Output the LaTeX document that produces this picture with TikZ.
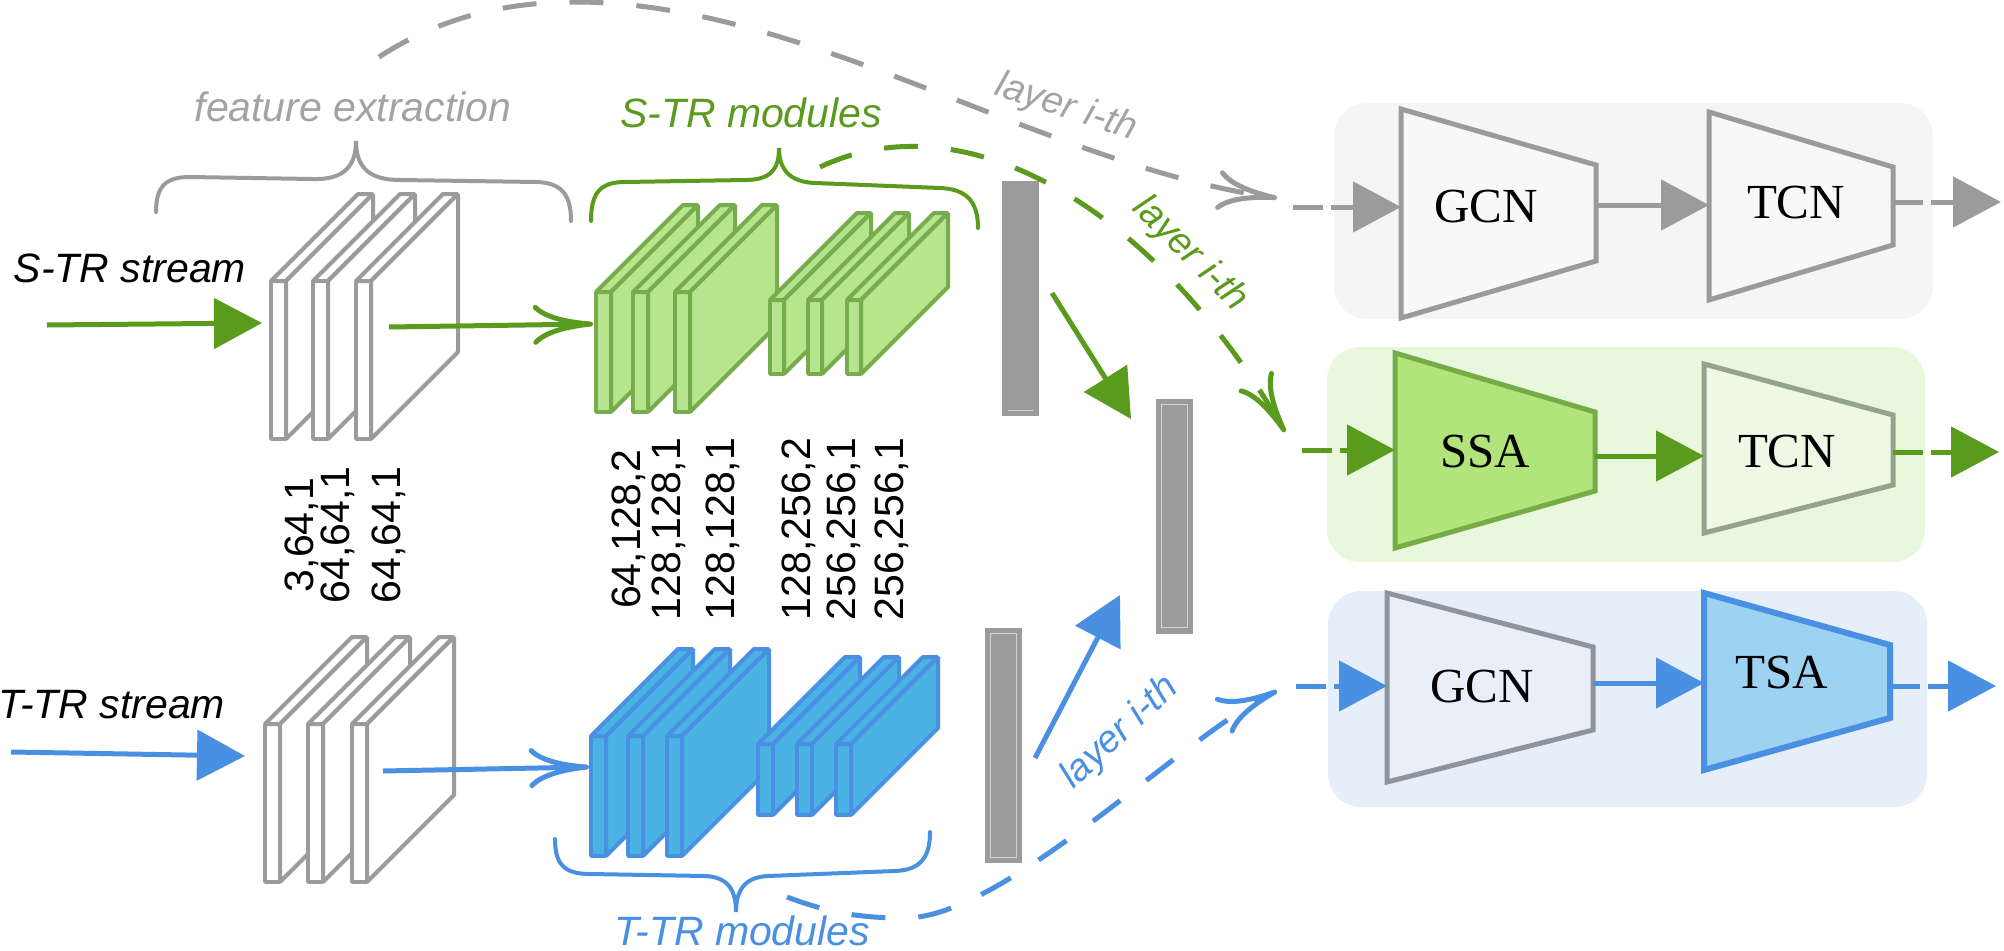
\documentclass[tikz,border=0pt]{standalone}
\usepackage{fontspec}
\setmainfont{Liberation Serif}
\setsansfont{Liberation Sans}
\usetikzlibrary{arrows.meta}
\definecolor{gline}{HTML}{9B9B9B}
\definecolor{gtext}{HTML}{A3A3A3}
\definecolor{grn}{HTML}{5A9A1C}
\definecolor{grnslab}{HTML}{B7E58E}
\definecolor{grnedge}{HTML}{76AC4C}
\definecolor{grnbox}{HTML}{E9F7DC}
\definecolor{ssafill}{HTML}{B1E57B}
\definecolor{ssaedge}{HTML}{75AC48}
\definecolor{tcngfill}{HTML}{EEF8E5}
\definecolor{tcngedge}{HTML}{94A38B}
\definecolor{blu}{HTML}{4A90E2}
\definecolor{bluslab}{HTML}{4BB3E4}
\definecolor{blubox}{HTML}{E6EEF9}
\definecolor{tsafill}{HTML}{9DD2F0}
\definecolor{gcnbfill}{HTML}{E9EFF9}
\definecolor{gcnbedge}{HTML}{8E949C}
\definecolor{graybox}{HTML}{F5F5F5}
\definecolor{gcnfill}{HTML}{F8F8F8}
\definecolor{barg}{HTML}{9B9B9B}
\definecolor{barl}{HTML}{D4D4D4}
\newcommand{\myslab}[5]{%
  \path[#5] (#1,#2) rectangle ++(#3,#4);
  \path[#5] (#1,#2) -- ++(87,-87) -- ++(#3,0) -- ++(-87,87) -- cycle;
  \path[#5] (#1+#3,#2) -- ++(87,-87) -- ++(0,#4) -- ++(-87,87) -- cycle;
}
\begin{document}
\begin{tikzpicture}[x=1pt,y=-1pt,
  lbl/.style={font=\sffamily\itshape\fontsize{41}{49}\selectfont, inner sep=0pt, anchor=base},
  lyr/.style={font=\sffamily\itshape\fontsize{38}{46}\selectfont, inner sep=0pt},
  num/.style={font=\sffamily\fontsize{41}{49}\selectfont, rotate=90, inner sep=0pt,
    text height=29pt, text depth=3pt},
  mod/.style={font=\rmfamily\fontsize{49}{58}\selectfont, inner sep=0pt},
  tri/.style={-{Triangle[length=48pt,width=50pt]}},
  barb/.style={-{Computer Modern Rightarrow[length=60pt,width=40pt]}},
  ln/.style={line width=5pt},
  sdash/.style={dash pattern=on 30pt off 8pt},
  ldash/.style={dash pattern=on 34pt off 33pt},
  slabg/.style={fill=white, draw=gline, line width=4pt, line join=bevel},
  slabgr/.style={fill=grnslab, draw=grnedge, line width=4pt, line join=bevel},
  slabb/.style={fill=bluslab, draw=blu, line width=4pt, line join=bevel},
  brace/.style={line width=4pt, line cap=round},
  rbox/.style={rounded corners=33pt, inner sep=0pt, draw=none},
  bar/.style={fill=barg, draw=none, inner sep=0pt, minimum width=37pt, minimum height=235pt},
  barin/.style={draw=barl, line width=1.2pt},
  trap/.style={line width=5pt, line join=miter},
]
\useasboundingbox (0,0) rectangle (2004,950);

% ---------- right-hand rounded boxes ----------
\node[rbox, fill=graybox, minimum width=599pt, minimum height=216pt] (boxg) at (1633.5,211) {};
\node[rbox, fill=grnbox, minimum width=598pt, minimum height=215pt] (boxgr) at (1626,454.5) {};
\node[rbox, fill=blubox, minimum width=599pt, minimum height=216pt] (boxb) at (1627.5,699) {};

% ---------- trapezoids ----------
\path[trap, fill=gcnfill, draw=gline] (1401,109) -- (1596,165) -- (1596,261) -- (1401,318) -- cycle;
\path[trap, fill=gcnfill, draw=gline] (1709,112) -- (1893,167) -- (1893,245) -- (1709,300) -- cycle;
\path[trap, fill=ssafill, draw=ssaedge] (1395,353) -- (1595,412) -- (1595,491) -- (1395,548) -- cycle;
\path[trap, fill=tcngfill, draw=tcngedge] (1704,364) -- (1893,415) -- (1893,485) -- (1704,533) -- cycle;
\path[trap, fill=gcnbfill, draw=gcnbedge] (1387,593) -- (1593,647) -- (1593,730) -- (1387,782) -- cycle;
\path[trap, fill=tsafill, draw=blu, line width=6pt] (1704,593) -- (1890,645) -- (1890,718) -- (1704,770) -- cycle;

\node[mod] (gcn1) at (1486,207) {GCN};
\node[mod] (tcn1) at (1796,203) {TCN};
\node[mod] (ssa) at (1485,452) {SSA};
\node[mod] (tcn2) at (1787,452) {TCN};
\node[mod] (gcn3) at (1482,687) {GCN};
\node[mod] (tsa) at (1782,673) {TSA};

% trapezoid edge points
\coordinate (g1in) at (1293,207);  \coordinate (g1w) at (1401,207);
\coordinate (g1e) at (1596,205);   \coordinate (t1w) at (1709,205);
\coordinate (t1e) at (1893,202);   \coordinate (g1out) at (2001,202);
\coordinate (s2in) at (1302,450);  \coordinate (s2w) at (1395,450);
\coordinate (s2e) at (1595,456);   \coordinate (t2w) at (1704,456);
\coordinate (t2e) at (1893,452);   \coordinate (s2out) at (1999,452);
\coordinate (b3in) at (1296,686);  \coordinate (g3w) at (1387,686);
\coordinate (g3e) at (1593,683);   \coordinate (ts3w) at (1704,683);
\coordinate (ts3e) at (1890,686);  \coordinate (b3out) at (1996,686);

\draw[gline, ln, sdash, tri] (g1in) -- (g1w);
\draw[gline, ln, tri] (g1e) -- (t1w);
\draw[gline, ln, sdash, tri] (t1e) -- (g1out);
\draw[grn, ln, sdash, tri] (s2in) -- (s2w);
\draw[grn, ln, tri] (s2e) -- (t2w);
\draw[grn, ln, sdash, tri] (t2e) -- (s2out);
\draw[blu, ln, sdash, tri] (b3in) -- (g3w);
\draw[blu, ln, tri] (g3e) -- (ts3w);
\draw[blu, ln, sdash, tri] (ts3e) -- (b3out);

% ---------- slabs ----------
\myslab{271}{281}{15}{158}{slabg}
\myslab{313}{281}{15}{158}{slabg}
\myslab{356}{281}{15}{158}{slabg}
\myslab{265}{724}{15}{158}{slabg}
\myslab{308}{724}{15}{158}{slabg}
\myslab{352}{724}{15}{158}{slabg}

\myslab{596}{292}{15}{120}{slabgr}
\myslab{633}{292}{15}{120}{slabgr}
\myslab{675}{292}{15}{120}{slabgr}
\myslab{770}{300}{14}{74}{slabgr}
\myslab{808}{300}{14}{74}{slabgr}
\myslab{847}{300}{14}{74}{slabgr}

\myslab{591}{736}{15}{120}{slabb}
\myslab{628}{736}{15}{120}{slabb}
\myslab{667}{736}{15}{120}{slabb}
\myslab{758}{744}{15}{71}{slabb}
\myslab{797}{744}{15}{71}{slabb}
\myslab{836}{744}{15}{71}{slabb}

% ---------- bars ----------
\node[bar] (bar1) at (1020.5,298.5) {};
\node[bar] (bar2) at (1174.5,516) {};
\node[bar] (bar3) at (1003.5,745.5) {};
\draw[barin] ([shift={(6,-6)}]bar1.south west) -- ([shift={(-6,-6)}]bar1.south east);
\draw[barin] ([shift={(6,6)}]bar2.north west) rectangle ([shift={(-6,-6)}]bar2.south east);
\draw[barin] ([shift={(6,6)}]bar3.north west) rectangle ([shift={(-6,-6)}]bar3.south east);

% ---------- braces ----------
\draw[brace, gline] (156,212) .. controls (156,186) and (166,177) .. (190,177) -- (312,179)
  .. controls (342,180) and (356,168) .. (356,141) .. controls (356,168) and (370,180) .. (400,180)
  -- (537,182) .. controls (562,183) and (571,195) .. (571,221);
\draw[brace, grn] (591,221) .. controls (591,193) and (600,182) .. (625,182) -- (745,180)
  .. controls (770,180) and (779,170) .. (779,148) .. controls (779,170) and (790,182) .. (815,183)
  -- (940,188) .. controls (965,189) and (978,200) .. (978,228);
\draw[brace, blu] (555,839) .. controls (555,865) and (565,874) .. (590,874) -- (705,876)
  .. controls (728,877) and (736,890) .. (736,912) .. controls (736,890) and (745,877) .. (768,876)
  -- (895,871) .. controls (920,870) and (930,858) .. (930,832);

% ---------- labels ----------
\node[lbl, text=gtext] (fe) at (353,121) {feature extraction};
\node[lbl, text=grn] (stm) at (751,127) {S-TR modules};
\node[lbl] (sts) at (130,282) {S-TR stream};
\node[lbl] (tts) at (112,718) {T-TR stream};
\node[lbl, text=blu] (ttm) at (742,945) {T-TR modules};

\node[num] (n1) at (300,535) {3,64,1};
\node[num] (n2) at (336,535) {64,64,1};
\node[num] (n3) at (387,535) {64,64,1};
\node[num] (n4) at (627,529) {64,128,2};
\node[num] (n5) at (667,529) {128,128,1};
\node[num] (n6) at (721,529) {128,128,1};
\node[num] (n7) at (797,529) {128,256,2};
\node[num] (n8) at (842,529) {256,256,1};
\node[num] (n9) at (890,529) {256,256,1};

\node[lyr, text=gtext, rotate=-18] (lg) at (1066,108) {layer i-th};
\node[lyr, text=grn, rotate=-45] (lgr) at (1190,254) {layer i-th};
\node[lyr, text=blu, rotate=43] (lb) at (1120,733) {layer i-th};

% ---------- stream arrows ----------
\coordinate (sin0) at (47,325);   \coordinate (sin1) at (262,323);
\coordinate (smid0) at (389,327); \coordinate (smid1) at (593,324);
\coordinate (tin0) at (11,752);   \coordinate (tin1) at (245,756);
\coordinate (tmid0) at (383,771); \coordinate (tmid1) at (589,767);
\draw[grn, ln, tri] (sin0) -- (sin1);
\draw[grn, ln, barb] (smid0) -- (smid1);
\draw[blu, ln, tri] (tin0) -- (tin1);
\draw[blu, ln, barb] (tmid0) -- (tmid1);

% ---------- diagonal arrows ----------
\coordinate (dg0) at (1052,293); \coordinate (dg1) at (1131,419);
\coordinate (db0) at (1035,758); \coordinate (db1) at (1120,595);
\draw[grn, ln, tri] (dg0) -- (dg1);
\draw[blu, ln, tri] (db0) -- (db1);

% ---------- dashed layer curves ----------
\coordinate (gA) at (379,57); \coordinate (gB) at (575,2); \coordinate (gC) at (1277,198);
\draw[gline, ln, ldash, barb] (gA) .. controls (439,18) and (505,2) .. (gB)
  .. controls (805,2) and (1047,166) .. (gC);
\coordinate (grA) at (820,167); \coordinate (grB) at (1285,432);
\draw[grn, ln, ldash, barb] (grA) .. controls (970,96) and (1160,215) .. (grB);
\coordinate (bA) at (787,897); \coordinate (bB) at (905,918); \coordinate (bC) at (1277,691);
\draw[blu, ln, ldash, barb] (bA) .. controls (830,913) and (860,918) .. (bB)
  .. controls (1005,918) and (1186,733) .. (bC);
\end{tikzpicture}
\end{document}
